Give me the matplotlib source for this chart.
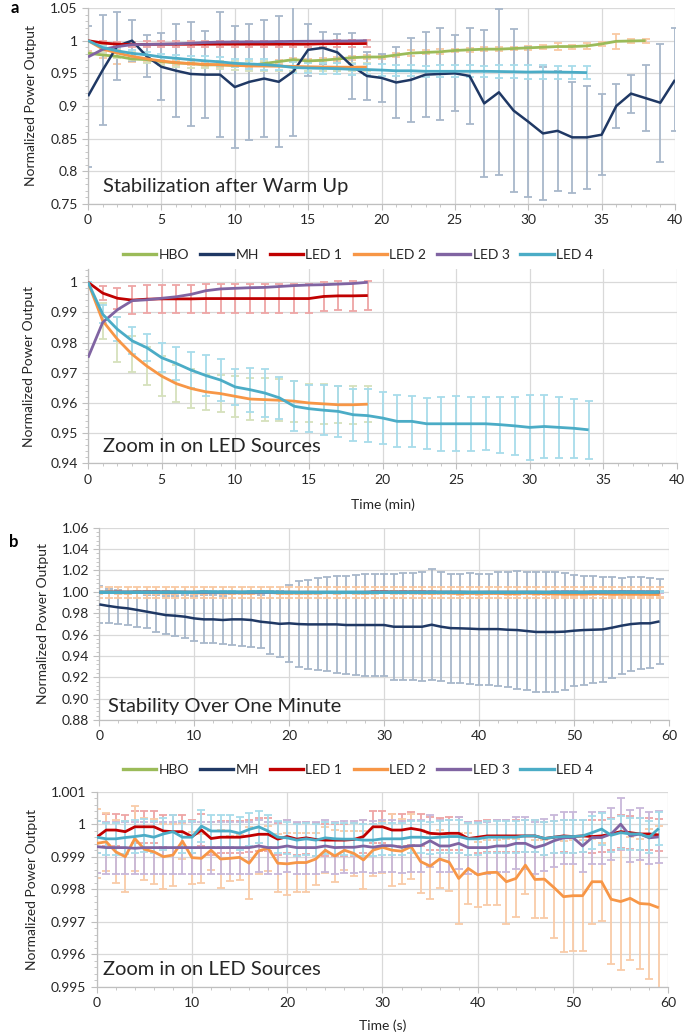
import matplotlib
matplotlib.use("Agg")
import matplotlib.pyplot as plt
from matplotlib.lines import Line2D
from matplotlib.ticker import MultipleLocator, FuncFormatter

plt.rcParams["font.family"] = ["Lato", "DejaVu Sans"]

# ---- panel a: warm up (minutes) ----
mh_a = [0.915, 0.955, 0.992, 1.000, 0.976, 0.960, 0.954, 0.949, 0.948, 0.948, 0.929,
        0.937, 0.942, 0.937, 0.953, 0.986, 0.989, 0.982, 0.961, 0.946, 0.943, 0.936,
        0.940, 0.948, 0.949, 0.950, 0.946, 0.904, 0.921, 0.893, 0.876, 0.858, 0.862,
        0.852, 0.852, 0.856, 0.900, 0.919, 0.912, 0.905, 0.940]
mh_a_err = [0.108, 0.084, 0.052, 0.031, 0.032, 0.051, 0.071, 0.080, 0.067, 0.096, 0.094,
            0.089, 0.089, 0.100, 0.099, 0.040, 0.024, 0.028, 0.050, 0.037, 0.037, 0.054,
            0.064, 0.065, 0.070, 0.058, 0.073, 0.112, 0.127, 0.125, 0.115, 0.102, 0.092,
            0.085, 0.079, 0.062, 0.033, 0.029, 0.050, 0.090, 0.079]
hbo_a = [0.981, 0.978, 0.976, 0.972, 0.971, 0.968, 0.966, 0.965, 0.963, 0.963, 0.962,
         0.962, 0.965, 0.968, 0.971, 0.969, 0.970, 0.972, 0.974, 0.975, 0.975, 0.978,
         0.981, 0.982, 0.983, 0.985, 0.986, 0.987, 0.987, 0.988, 0.989, 0.990, 0.991,
         0.991, 0.992, 0.995, 0.999, 0.9995, 1.000]
hbo_a_err = [0.003, 0.004, 0.012, 0.004, 0.003, 0.003, 0.003, 0.003, 0.003, 0.003, 0.003,
             0.003, 0.003, 0.003, 0.003, 0.003, 0.003, 0.003, 0.003, 0.003, 0.003, 0.003,
             0.005, 0.003, 0.004, 0.003, 0.003, 0.003, 0.003, 0.003, 0.003, 0.003, 0.0055,
             0.003, 0.005, 0.003, 0.011, 0.003, 0.003]
led1_a = [1.0, 0.9964, 0.9947, 0.9941, 0.9944, 0.9945, 0.9945, 0.9945, 0.9946, 0.9946,
          0.9946, 0.9946, 0.9946, 0.9946, 0.9946, 0.9946, 0.9953, 0.9955, 0.9955, 0.9956]
led1_a_err = [0.0, 0.0024, 0.0035, 0.0045, 0.0046, 0.0047, 0.0047, 0.0047, 0.0048, 0.0048,
              0.0048, 0.0048, 0.0048, 0.0048, 0.0048, 0.0048, 0.0048, 0.0048, 0.0049, 0.0048]
led2_a = [1.0, 0.9872, 0.9811, 0.9761, 0.9722, 0.9689, 0.9664, 0.9648, 0.9637, 0.9631,
          0.9622, 0.9613, 0.9611, 0.9609, 0.9606, 0.9600, 0.9597, 0.9594, 0.9594, 0.9596]
led2_a_err = [0.0, 0.006, 0.0075, 0.006, 0.0063, 0.0067, 0.0062, 0.0065, 0.0059, 0.0061,
              0.0069, 0.0071, 0.0071, 0.0069, 0.0068, 0.0063, 0.0066, 0.0061, 0.0063, 0.0060]
led3_a = [0.975, 0.9867, 0.9909, 0.9939, 0.9942, 0.9947, 0.9952, 0.996, 0.9972, 0.9978,
          0.998, 0.9982, 0.9983, 0.9986, 0.9989, 0.9991, 0.9992, 0.9994, 0.9996, 1.0]
led4_a = [1.0, 0.9894, 0.9844, 0.9806, 0.9783, 0.975, 0.9731, 0.9709, 0.9691, 0.9676,
          0.9653, 0.9644, 0.9633, 0.9617, 0.9589, 0.9581, 0.9576, 0.9572, 0.9561, 0.9558,
          0.955, 0.9539, 0.9539, 0.9531, 0.9531, 0.9531, 0.9531, 0.9531, 0.9528, 0.9524,
          0.9519, 0.9522, 0.9519, 0.9516, 0.9511]
led4_a_err = [0.0, 0.003, 0.004, 0.0045, 0.0045, 0.0048, 0.0056, 0.006, 0.0067, 0.0071,
              0.0060, 0.0073, 0.0080, 0.0069, 0.0083, 0.0078, 0.0083, 0.0085, 0.0086, 0.0087,
              0.0087, 0.0086, 0.0084, 0.0085, 0.0089, 0.0091, 0.0090, 0.0088, 0.0093, 0.0097,
              0.0107, 0.0105, 0.0100, 0.0098, 0.0096]

# ---- panel b: one minute (seconds) ----
mh_b = [0.9882, 0.9867, 0.9854, 0.9845, 0.983, 0.9814, 0.9798, 0.9782, 0.9776, 0.9767,
        0.9751, 0.9742, 0.9742, 0.9736, 0.9742, 0.9742, 0.9736, 0.972, 0.9711, 0.970,
        0.9705, 0.9698, 0.9695, 0.9695, 0.9695, 0.9695, 0.9689, 0.9689, 0.9689, 0.9689,
        0.9689, 0.9673, 0.9673, 0.9673, 0.9673, 0.9692, 0.9673, 0.966, 0.9658, 0.9655,
        0.9651, 0.9651, 0.9651, 0.9645, 0.9642, 0.9633, 0.9624, 0.9624, 0.9624, 0.9627,
        0.9636, 0.9642, 0.9645, 0.9648, 0.9664, 0.9683, 0.9698, 0.9705, 0.9705, 0.9723]
mh_b_err = [0.017, 0.016, 0.016, 0.0155, 0.0155, 0.0156, 0.017, 0.0175, 0.0187, 0.020,
            0.021, 0.0225, 0.0225, 0.0226, 0.024, 0.0245, 0.025, 0.025, 0.029, 0.031,
            0.036, 0.040, 0.042, 0.043, 0.044, 0.0454, 0.046, 0.047, 0.048, 0.048,
            0.048, 0.0497, 0.050, 0.050, 0.051, 0.052, 0.051, 0.051, 0.051, 0.052,
            0.052, 0.052, 0.053, 0.054, 0.055, 0.055, 0.056, 0.056, 0.056, 0.055,
            0.052, 0.051, 0.050, 0.049, 0.047, 0.045, 0.044, 0.043, 0.042, 0.0396]
hbo_b = [0.9993, 0.9994, 0.9993, 0.9992, 0.9993, 0.9993, 0.9994, 0.9993, 0.9992, 0.9993,
         0.9993, 0.9994, 0.9993, 0.9993, 0.9992, 0.9993, 0.9993, 0.9994, 0.9993, 0.9993,
         0.9992, 0.9993, 0.9993, 0.9993, 0.9994, 0.9993, 0.9992, 0.9993, 0.9993, 0.9993,
         0.9994, 0.9993, 0.9993, 0.9992, 0.9993, 0.9993, 0.9993, 0.9994, 0.9993, 0.9992,
         0.9993, 0.9993, 0.9993, 0.9994, 0.9993, 0.9993, 0.9992, 0.9993, 0.9993, 0.9994,
         0.9993, 0.9993, 0.9992, 0.9993, 0.9993, 0.9994, 0.9993, 0.9993, 0.9992, 0.9993]
hbo_b_err = 0.0052
led1_b = [0.9996, 0.99982, 0.99982, 0.99977, 0.99992, 0.99992, 0.99992, 0.99979, 0.99977, 0.99977,
          0.99962, 0.99982, 0.99956, 0.9996, 0.9996, 0.9996, 0.99964, 0.99969, 0.99969, 0.99954,
          0.99962, 0.99954, 0.99958, 0.99953, 0.99951, 0.99951, 0.99951, 0.99953, 0.99962, 0.99992,
          0.99992, 0.99982, 0.99982, 0.99987, 0.99982, 0.99972, 0.9997, 0.99972, 0.99972, 0.99956,
          0.9996, 0.99964, 0.99964, 0.99964, 0.99964, 0.99964, 0.99964, 0.99956, 0.9996, 0.99964,
          0.99962, 0.99964, 0.99962, 0.99964, 0.9997, 0.99977, 0.99974, 0.9997, 0.9997, 0.99967]
led1_b_err = 0.0005
led2_b = [0.99941, 0.99946, 0.99915, 0.999, 0.99956, 0.99923, 0.99915, 0.999, 0.99905, 0.99948,
          0.99897, 0.99895, 0.9992, 0.99893, 0.99895, 0.99898, 0.9988, 0.99918, 0.99926, 0.9988,
          0.99878, 0.99882, 0.99882, 0.99893, 0.9992, 0.99902, 0.9992, 0.9991, 0.9989, 0.9992,
          0.99929, 0.9992, 0.99917, 0.99931, 0.99885, 0.99871, 0.99893, 0.99883, 0.99833, 0.99864,
          0.99844, 0.99851, 0.99852, 0.99823, 0.99833, 0.99874, 0.9983, 0.99831, 0.99805, 0.99777,
          0.9978, 0.9978, 0.99823, 0.99823, 0.99769, 0.99762, 0.99772, 0.99756, 0.99754, 0.99743]
led2_b_err = [0.00107, 0.0009, 0.00097, 0.0011, 0.0010, 0.00095, 0.0010, 0.001, 0.00095, 0.00055,
              0.0008, 0.00075, 0.0006, 0.0009, 0.0007, 0.0007, 0.0011, 0.0007, 0.0007, 0.0009,
              0.00095, 0.0009, 0.0009, 0.0008, 0.0007, 0.0008, 0.0006, 0.0007, 0.0009, 0.0008,
              0.0008, 0.0011, 0.0010, 0.0010, 0.00098, 0.001, 0.0009, 0.0009, 0.0014, 0.0011,
              0.0010, 0.0010, 0.0010, 0.0013, 0.0012, 0.0009, 0.0012, 0.0012, 0.00156, 0.0017,
              0.0017, 0.0017, 0.0013, 0.0012, 0.0020, 0.0021, 0.0019, 0.0020, 0.0023, 0.0025]
led3_b = [0.99931, 0.99928, 0.99928, 0.99928, 0.99926, 0.99928, 0.99928, 0.99928, 0.99928, 0.99928,
          0.99928, 0.99928, 0.99928, 0.99928, 0.99928, 0.99928, 0.99928, 0.99933, 0.99928, 0.99928,
          0.99933, 0.99928, 0.99928, 0.99928, 0.99933, 0.99928, 0.99929, 0.99929, 0.99933, 0.99929,
          0.99934, 0.99934, 0.99929, 0.99934, 0.99934, 0.99949, 0.99933, 0.99933, 0.99941, 0.99928,
          0.99928, 0.99928, 0.99933, 0.99933, 0.99941, 0.99941, 0.99928, 0.99936, 0.99949, 0.99958,
          0.99959, 0.99933, 0.99959, 0.99959, 0.9997, 1.0, 0.99964, 0.9997, 0.99958, 0.99961]
led3_b_err = 0.0008
led4_b = [0.9996, 0.99955, 0.99955, 0.99959, 0.99962, 0.99966, 0.9996, 0.9997, 0.99977, 0.9996,
          0.9996, 0.99994, 0.99979, 0.99979, 0.99979, 0.99972, 0.99984, 0.99992, 0.99979, 0.9996,
          0.99958, 0.99951, 0.99955, 0.99951, 0.99958, 0.99955, 0.99954, 0.99954, 0.99951, 0.99951,
          0.99955, 0.99955, 0.99955, 0.9996, 0.9996, 0.99958, 0.9996, 0.99962, 0.99962, 0.99955,
          0.99955, 0.9996, 0.9996, 0.9996, 0.9996, 0.99964, 0.99964, 0.99956, 0.9996, 0.99962,
          0.99962, 0.99964, 0.99974, 0.99985, 0.99966, 0.99974, 0.9997, 0.9997, 0.9996, 0.99987]
led4_b_err = 0.0005

names = ["HBO", "MH", "LED 1", "LED 2", "LED 3", "LED 4"]
colors = {"HBO": "#9BBB59", "MH": "#1F3864", "LED 1": "#C00000",
          "LED 2": "#F79646", "LED 3": "#8064A2", "LED 4": "#4BACC6"}
err_col = {"HBO": "#F9C9A3", "MH": "#A8B7CA", "LED 1": "#EEA5A5",
           "LED 2": "#F9CBA8", "LED 3": "#C8B8DA", "LED 4": "#A8DCEA"}
GRID = "#D9D9D9"
TXT = "#262626"


def series(ax, y, err, name, ecolor=None, lw=2.0):
    x = list(range(len(y)))
    if err is not None:
        ax.errorbar(x, y, yerr=err, fmt="none", ecolor=ecolor or err_col[name],
                    elinewidth=1.3, capsize=3, capthick=1.3, zorder=2)
    ax.plot(x, y, color=colors[name], lw=lw, zorder=3, solid_capstyle="butt")


def style(ax, xmax, xmaj, xmin, ylim, ymaj, ymin, fmt):
    ax.set_xlim(0, xmax)
    ax.set_ylim(*ylim)
    ax.xaxis.set_major_locator(MultipleLocator(xmaj))
    ax.xaxis.set_minor_locator(MultipleLocator(xmin))
    ax.yaxis.set_major_locator(MultipleLocator(ymaj))
    ax.yaxis.set_minor_locator(MultipleLocator(ymin))
    ax.yaxis.set_major_formatter(FuncFormatter(fmt))
    ax.grid(True, which="major", color=GRID, lw=0.9, zorder=0)
    ax.set_axisbelow(True)
    for s in ["top", "right"]:
        ax.spines[s].set_visible(False)
    for s in ["left", "bottom"]:
        ax.spines[s].set_color("#BFBFBF")
        ax.spines[s].set_linewidth(0.9)
    ax.tick_params(which="major", length=4, color="#BFBFBF", labelsize=10, labelcolor=TXT)
    ax.tick_params(which="minor", length=2.5, color="#BFBFBF")
    ax.set_ylabel("Normalized Power Output", fontsize=10, color=TXT)


fig = plt.figure(figsize=(6.85, 10.36), dpi=100)
W, H = 685, 1036


def add_ax(l, r, t, b):
    return fig.add_axes([l / W, 1 - b / H, (r - l) / W, (b - t) / H])


gfmt = lambda v, p: f"{v:g}"

# panel a top
ax1 = add_ax(88, 675, 8, 204)
series(ax1, hbo_a, hbo_a_err, "HBO")
series(ax1, mh_a, mh_a_err, "MH", lw=1.8)
series(ax1, led1_a, led1_a_err, "LED 1")
series(ax1, led2_a, led2_a_err, "LED 2", ecolor="#D5E1BC")
series(ax1, led3_a, None, "LED 3")
series(ax1, led4_a, led4_a_err, "LED 4")
style(ax1, 40, 5, 1, (0.75, 1.05), 0.05, 0.01, gfmt)
ax1.yaxis.set_label_coords(-0.087, 0.5)
ax1.text(1.0, 0.7684, "Stabilization after Warm Up", fontsize=14.5, color=TXT, va="baseline")

# panel a bottom
ax2 = add_ax(88, 677, 269, 463.3)
series(ax2, led1_a, led1_a_err, "LED 1")
series(ax2, led2_a, led2_a_err, "LED 2", ecolor="#D5E1BC")
series(ax2, led3_a, None, "LED 3")
series(ax2, led4_a, led4_a_err, "LED 4")
style(ax2, 40, 5, 1, (0.94, 1.0044), 0.01, 0.002, gfmt)
ax2.set_yticks([0.94, 0.95, 0.96, 0.97, 0.98, 0.99, 1.0])
ax2.yaxis.set_label_coords(-0.09, 0.5)
ax2.text(1.0, 0.9438, "Zoom in on LED Sources", fontsize=14.5, color=TXT, va="baseline")

# panel b top
ax3 = add_ax(99.3, 669, 527.7, 720)
series(ax3, mh_b, mh_b_err, "MH", lw=1.8)
series(ax3, hbo_b, hbo_b_err, "HBO")
series(ax3, led1_b, led1_b_err, "LED 1")
series(ax3, led2_b, led2_b_err, "LED 2")
series(ax3, led3_b, led3_b_err, "LED 3")
series(ax3, led4_b, led4_b_err, "LED 4", lw=2.5)
style(ax3, 60, 10, 2, (0.88, 1.06), 0.02, 0.004, lambda v, p: f"{v:.2f}")
ax3.yaxis.set_label_coords(-0.088, 0.5)
ax3.text(0.9, 0.8875, "Stability Over One Minute", fontsize=14.5, color=TXT, va="baseline")

# panel b bottom
ax4 = add_ax(96.7, 668.3, 791.7, 986.7)
series(ax4, led1_b, led1_b_err, "LED 1")
series(ax4, led2_b, led2_b_err, "LED 2")
series(ax4, led3_b, led3_b_err, "LED 3")
series(ax4, led4_b, led4_b_err, "LED 4")
style(ax4, 60, 10, 2, (0.995, 1.001), 0.001, 0.0002, gfmt)
ax4.yaxis.set_label_coords(-0.103, 0.5)
ax4.text(0.66, 0.99536, "Zoom in on LED Sources", fontsize=14.5, color=TXT, va="baseline")

handles = [Line2D([], [], color=colors[n], lw=2.4) for n in names]
for ycen in (255, 770):
    fig.legend(handles, names, loc="center", bbox_to_anchor=(358 / W, 1 - ycen / H),
               ncol=6, frameon=False, fontsize=10, handlelength=2.4,
               handletextpad=0.15, columnspacing=0.8, labelcolor=TXT)

fig.text(383 / W, 1 - 505 / H, "Time (min)", ha="center", va="center", fontsize=10, color=TXT)
fig.text(383 / W, 1 - 1026 / H, "Time (s)", ha="center", va="center", fontsize=10, color=TXT)
fig.text(15 / W, 1 - 8 / H, "a", ha="center", va="center", fontsize=12, fontweight="bold")
fig.text(14 / W, 1 - 542 / H, "b", ha="center", va="center", fontsize=12, fontweight="bold")

fig.savefig("out.png", dpi=100)
